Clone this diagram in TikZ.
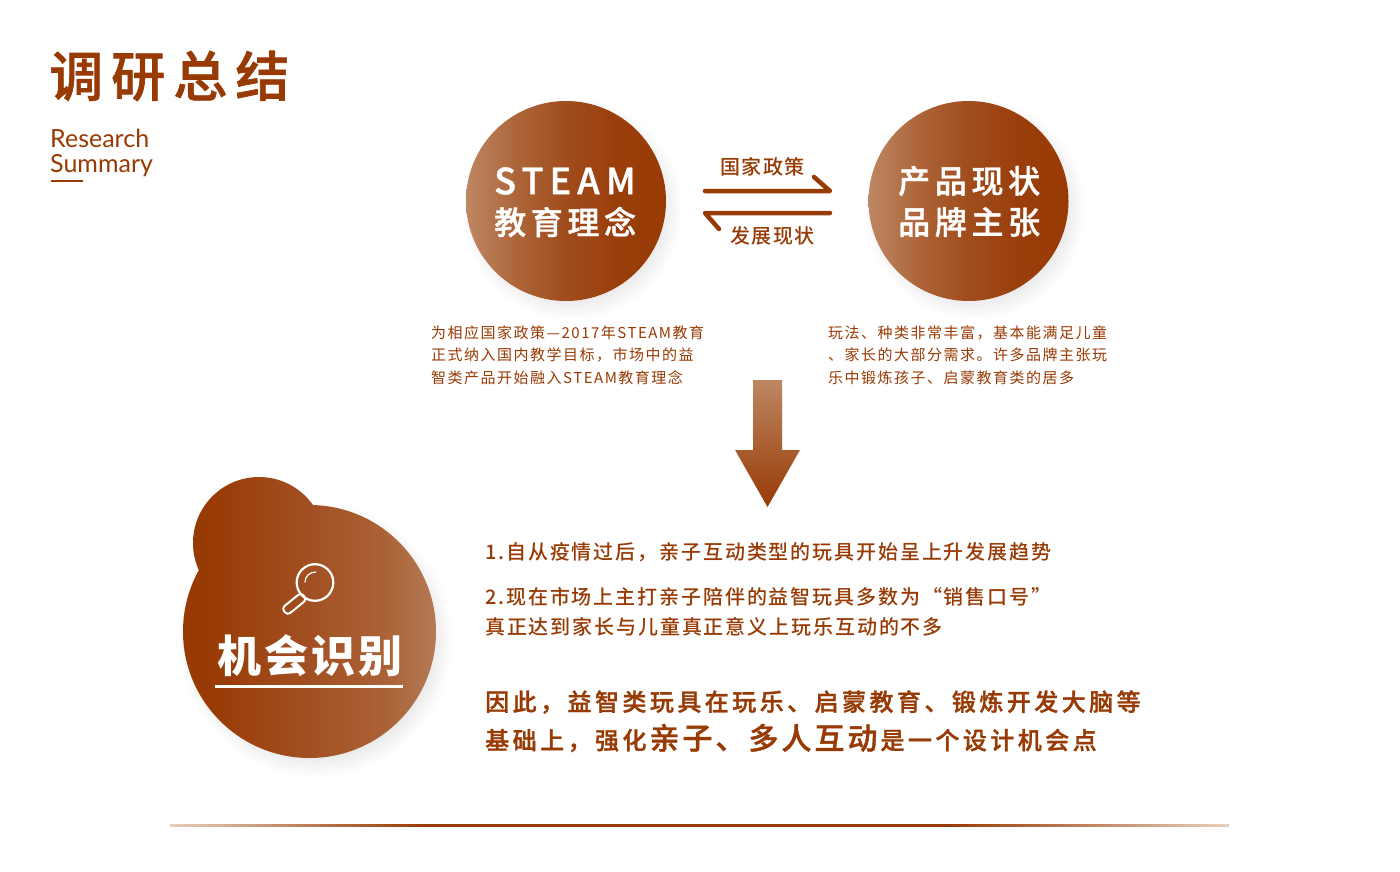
\documentclass[tikz,border=0pt]{standalone}
\usepackage{fontspec}
\setmainfont{Noto Sans CJK SC}
\newfontfamily\cjkmedium{Noto Sans CJK SC Medium}
\newfontfamily\cjkheavy[FakeBold=1.2]{Noto Sans CJK SC Medium}
\newfontfamily\latinfont{Lato}
\usetikzlibrary{calc}

\definecolor{rustdark}{HTML}{983A04}
\definecolor{rustlight}{HTML}{BE8763}
\definecolor{rustpale}{HTML}{E6CDBB}
\definecolor{fadeA}{HTML}{AC6438}
\definecolor{fadeB}{HTML}{A04C1C}
\definecolor{fadeC}{HTML}{9A3F0C}
\definecolor{blobA}{HTML}{A25022}
\definecolor{blobB}{HTML}{AB6237}
\definecolor{blobC}{HTML}{B37B56}

\pgfdeclarehorizontalshading{bubblefade}{100bp}{
    color(0bp)=(rustlight); color(25bp)=(rustlight); color(38bp)=(fadeA);
    color(50bp)=(fadeB); color(62bp)=(fadeC);
    color(75bp)=(rustdark); color(100bp)=(rustdark)}
\pgfdeclarehorizontalshading{blobfade}{100bp}{
    color(0bp)=(rustdark); color(30bp)=(rustdark); color(50bp)=(blobA);
    color(65bp)=(blobB); color(75bp)=(blobC); color(100bp)=(blobC)}

\newcommand{\cjksize}[2]{\fontsize{#1}{#1}\selectfont\addfontfeature{LetterSpace=#2}}

\tikzset{
    label text/.style={anchor=west, inner sep=0pt, text=rustdark},
    small text/.style={label text, font=\cjksize{15}{10}},
    body text/.style={label text, font=\cjkmedium\cjksize{20}{9.4}},
    strong text/.style={label text, font=\cjkheavy\cjksize{24}{14.4}},
    bubble text/.style={anchor=west, inner sep=0pt, text=white, font=\cjkheavy\cjksize{32}{14.5}},
    arrow line/.style={rustdark, line width=4.5pt, line cap=round, line join=round},
    bubble/.style={circle, minimum size=200pt, inner sep=0pt, shading=bubblefade},
}

\begin{document}
\begin{tikzpicture}[x=1pt, y=-1pt]
    \useasboundingbox (0,0) rectangle (1400,872);
    \fill[white] (0,0) rectangle (1400,872);

    % soft shadows
    \foreach \grow in {-8,-6,...,10} {
        \fill[black, opacity=0.009] (572,209) circle ({100+\grow});
        \fill[black, opacity=0.009] (975,209) circle ({100+\grow});
        \fill[black, opacity=0.009] (316,640) circle ({126.5+\grow});
    }

    % title
    \node[label text, font=\cjkheavy\cjksize{54}{15}] (title) at (49,76) {调研总结};
    \node[label text, font=\latinfont\fontsize{25}{25}\selectfont] (research) at (50,138) {Research};
    \node[label text, font=\latinfont\fontsize{25}{25}\selectfont] (summary) at (50,166) {Summary};
    \draw[rustdark, line width=2pt] (51,181) -- (83,181);

    % top circles
    \node[bubble] (steam) at (566,201) {};
    \node[bubble] (product) at (968.5,201) {};
    \node[bubble text, font=\cjkheavy\cjksize{36}{17}] (steamA) at (494,181) {STEAM};
    \node[bubble text] (steamB) at (494,222) {教育理念};
    \node[bubble text] (productA) at (898,181) {产品现状};
    \node[bubble text] (productB) at (898,222) {品牌主张};

    % arrows between the circles
    \coordinate (fwdA) at (705,191);
    \coordinate (fwdB) at (830,191);
    \coordinate (fwdC) at (814,177);
    \coordinate (backA) at (830,213);
    \coordinate (backB) at (705,213);
    \coordinate (backC) at (719,229);
    \draw[arrow line] (fwdA) -- (fwdB) -- (fwdC);
    \draw[arrow line] (backA) -- (backB) -- (backC);
    \node[label text, font=\cjkmedium\cjksize{20}{8}] (policy) at (720,167) {国家政策};
    \node[label text, font=\cjkmedium\cjksize{20}{8}] (status) at (730,236) {发展现状};

    % captions
    \node[small text] (leftA) at (431,332.5) {为相应国家政策—2017年STEAM教育};
    \node[small text] (leftB) at (431,355) {正式纳入国内教学目标，市场中的益};
    \node[small text] (leftC) at (431,377.5) {智类产品开始融入STEAM教育理念};
    \node[small text] (rightA) at (828,332.5) {玩法、种类非常丰富，基本能满足儿童};
    \node[small text] (rightB) at (828,355) {、家长的大部分需求。许多品牌主张玩};
    \node[small text] (rightC) at (828,377.5) {乐中锻炼孩子、启蒙教育类的居多};

    % big arrow
    \shade[top color=rustlight, bottom color=rustdark]
        (753,380) -- (782,380) -- (782,450) -- (800,450) -- (767.5,507)
        -- (735,450) -- (753,450) -- cycle;

    % opportunity blob
    \shade[shading=blobfade] (309.5,631.5) circle (126.5) (259,543) circle (66);
    \draw[white, line width=2.2pt] (315,582.5) circle (18.3);
    \draw[white, line width=1.2pt, line cap=round]
        (305,582) .. controls (305,576) and (310,572) .. (316,572);
    \draw[white, line width=2pt, rounded corners=3.6pt, rotate around={39:(304,596)}]
        (304,591.5) rectangle (279,600.5);
    \node[bubble text, font=\bfseries\cjksize{44}{7}] (chance) at (217,656) {机会识别};
    \draw[white, line width=2.5pt] (215,686.5) -- (403,686.5);

    % findings
    \node[body text] (findA) at (485,552) {1.自从疫情过后，亲子互动类型的玩具开始呈上升发展趋势};
    \node[body text] (findB) at (485,597) {2.现在市场上主打亲子陪伴的益智玩具多数为“销售口号”};
    \node[body text] (findC) at (485,627) {真正达到家长与儿童真正意义上玩乐互动的不多};
    \node[strong text] (endA) at (485,702) {因此，益智类玩具在玩乐、启蒙教育、锻炼开发大脑等};
    \node[strong text] (endB) at (485,738) {基础上，强化\hspace{3pt}{\cjksize{30}{10}亲子、多人互动}\hspace{3pt}是一个设计机会点};

    % bottom rule
    \fill[rustdark] (420,823.5) rectangle (950,826.5);
    \foreach \i in {0,...,49} {
        \pgfmathtruncatemacro{\mixval}{2*\i}
        \fill[rustdark!\mixval!rustpale] ({170+5*\i},823.5) rectangle ({175.5+5*\i},826.5);
        \fill[rustdark!\mixval!rustpale] ({1229-5.58*\i},823.5) rectangle ({1223-5.58*\i},826.5);
    }
\end{tikzpicture}
\end{document}
